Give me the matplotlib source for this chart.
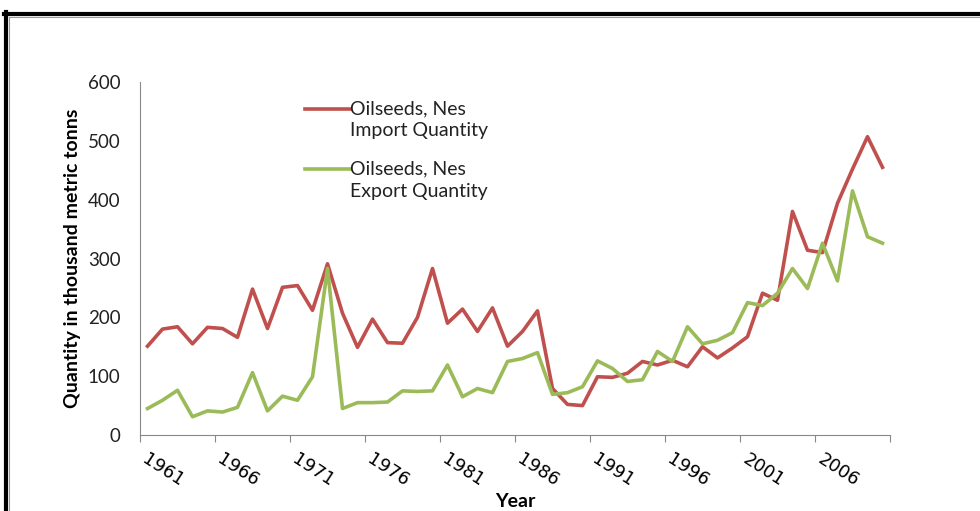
import matplotlib
matplotlib.use("Agg")
import matplotlib.pyplot as plt
from matplotlib.lines import Line2D

# Data (thousand metric tons)
years = list(range(1961, 2011))
imports = [151, 180, 184, 155, 183, 181, 166, 248, 181, 251,
           254, 212, 291, 207, 149, 197, 157, 156, 200, 283,
           190, 214, 176, 216, 151, 176, 211, 79, 52, 50,
           99, 98, 105, 125, 119, 127, 116, 150, 131, 148,
           167, 241, 229, 380, 314, 310, 394, 452, 507, 455]
exports = [45, 59, 76, 31, 41, 39, 47, 106, 41, 66,
           59, 99, 283, 45, 55, 55, 56, 75, 74, 75,
           119, 65, 79, 72, 125, 130, 140, 69, 72, 82,
           126, 113, 91, 94, 142, 125, 184, 155, 161, 174,
           225, 220, 241, 283, 249, 326, 262, 415, 337, 326]
label_years = years[::5]

red = '#C0504D'
green = '#9BBB59'
font = 'Lato'

fig = plt.figure(figsize=(9.8, 5.11), dpi=100)
ax = fig.add_axes([140 / 980, 76 / 511, 750 / 980, 353 / 511])

x = list(range(len(years)))
ax.plot(x, imports, color=red, lw=2.6, label='Oilseeds, Nes\nImport Quantity')
ax.plot(x, exports, color=green, lw=2.6, label='Oilseeds, Nes\nExport Quantity')

ax.set_xlim(-0.5, len(years) - 0.5)
ax.set_ylim(0, 600)
ax.set_yticks(range(0, 601, 100))
ax.tick_params(axis='y', length=0, pad=14, labelsize=13.5, labelcolor='#222222')
for t in ax.get_yticklabels():
    t.set_fontfamily(font)

# tick marks on category boundaries, labels on every 5th year
ax.set_xticks([i - 0.5 for i in range(0, len(years) + 1, 5)])
ax.set_xticklabels([])
ax.tick_params(axis='x', which='major', length=5, color='#888888', direction='out')
ax.set_xticks([i + 0.1 for i in range(0, len(years), 5)], minor=True)
ax.set_xticklabels([str(y) for y in label_years], minor=True, rotation=-33,
                   ha='left', va='top', rotation_mode='anchor', fontsize=13,
                   fontfamily='DejaVu Sans')
ax.tick_params(axis='x', which='minor', length=0, pad=11)

for s in ['top', 'right']:
    ax.spines[s].set_visible(False)
ax.spines['left'].set_color('#888888')
ax.spines['bottom'].set_color('#888888')

ax.set_ylabel('Quantity in thousand metric tonns', fontsize=14, fontweight='bold',
              fontfamily=font, labelpad=5)
ax.set_xlabel('Year', fontsize=14, fontweight='bold', fontfamily=font)
ax.xaxis.set_label_coords(0.5, -0.164)

leg = ax.legend(loc='upper left', bbox_to_anchor=(0.22, 0.948), frameon=False,
                prop={'family': font, 'size': 14}, handlelength=2.3, handletextpad=0.0,
                labelspacing=1.1, borderpad=0, borderaxespad=0, labelcolor='#222222')
for t in leg.get_texts():
    t.set_linespacing(1.35)
# put legend line beside the first line of each label
for h in leg.legend_handles:
    h.set_ydata([y + 8 for y in h.get_ydata()])

# outer frame, black with thin grey inner line
fig.add_artist(Line2D([4 / 980, 1], [1 - 14 / 511] * 2, color='black', lw=3))
fig.add_artist(Line2D([6 / 980] * 2, [0, 1 - 12 / 511], color='black', lw=3))
fig.add_artist(Line2D([8.5 / 980, 1], [1 - 17 / 511] * 2, color='#999999', lw=0.8))
fig.add_artist(Line2D([8.5 / 980] * 2, [0, 1 - 17 / 511], color='#999999', lw=0.8))

fig.savefig('out.png', dpi=100)
